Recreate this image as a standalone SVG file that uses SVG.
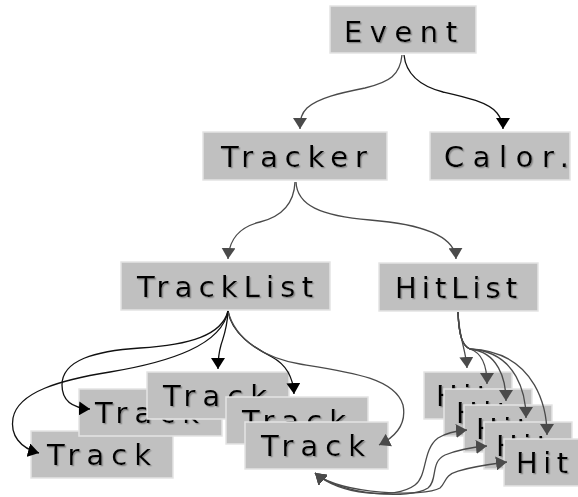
<svg xmlns="http://www.w3.org/2000/svg" width="578" height="497" viewBox="0 0 578 497">
  <style>
    .box { fill: #c0c0c0; stroke: #e4e4e4; stroke-width: 1.5; }
    .lbl { font-family: "DejaVu Sans", "Liberation Sans", sans-serif; font-size: 29px; fill: #000; filter: url(#shadow); }
    .dk { fill: none; stroke: #111; stroke-width: 1.3; marker-end: url(#headDk); }
    .gr { fill: none; stroke: #4a4a4a; stroke-width: 1.3; marker-end: url(#headGr); }
    .both { fill: none; stroke: #4a4a4a; stroke-width: 1.3; marker-end: url(#headGr); marker-start: url(#headGr); }
  </style>
  <defs>
    <filter id="shadow" x="-5%" y="-20%" width="115%" height="150%">
      <feDropShadow dx="1.3" dy="1.3" stdDeviation="0.2" flood-color="#8a8a8a" flood-opacity="1"/>
    </filter>
    <marker id="headDk" viewBox="0 0 11 14" refX="11" refY="7" markerWidth="11" markerHeight="14" markerUnits="userSpaceOnUse" orient="auto-start-reverse">
      <path d="M0,0 L11,7 L0,14 z" fill="#000"/>
    </marker>
    <marker id="headGr" viewBox="0 0 11 14" refX="11" refY="7" markerWidth="11" markerHeight="14" markerUnits="userSpaceOnUse" orient="auto-start-reverse">
      <path d="M0,0 L11,7 L0,14 z" fill="#4a4a4a"/>
    </marker>
  </defs>

  <!-- nodes -->
  <g id="event">
    <rect class="box" x="330" y="6" width="146" height="47"/>
    <text class="lbl" x="344" y="42" textLength="113">Event</text>
  </g>
  <g id="tracker">
    <rect class="box" x="203" y="132" width="184" height="48"/>
    <text class="lbl" x="221" y="167" textLength="146">Tracker</text>
  </g>
  <g id="calor">
    <rect class="box" x="430" y="132" width="140" height="48"/>
    <text class="lbl" x="444" y="167" textLength="125">Calor.</text>
  </g>
  <g id="tracklist">
    <rect class="box" x="121" y="262" width="209" height="48"/>
    <text class="lbl" x="137" y="297" textLength="176">TrackList</text>
  </g>
  <g id="hitlist">
    <rect class="box" x="379" y="263" width="159" height="48"/>
    <text class="lbl" x="395" y="298" textLength="122">HitList</text>
  </g>

  <g id="track1">
    <rect class="box" x="31" y="431" width="142" height="47"/>
    <text class="lbl" x="47" y="465" textLength="104">Track</text>
  </g>
  <g id="track2">
    <rect class="box" x="79" y="389" width="143" height="47"/>
    <text class="lbl" x="95" y="423" textLength="104">Track</text>
  </g>
  <g id="track3">
    <rect class="box" x="147" y="372" width="142" height="47"/>
    <text class="lbl" x="163" y="406" textLength="104">Track</text>
  </g>
  <g id="track4">
    <rect class="box" x="226" y="397" width="142" height="47"/>
    <text class="lbl" x="242" y="431" textLength="104">Track</text>
  </g>
  <g id="track5">
    <rect class="box" x="245" y="422" width="143" height="47"/>
    <text class="lbl" x="261" y="456" textLength="104">Track</text>
  </g>

  <g id="hit1">
    <rect class="box" x="424" y="372" width="88" height="47"/>
    <text class="lbl" x="436" y="406" textLength="52">Hit</text>
  </g>
  <g id="hit2">
    <rect class="box" x="444" y="389" width="88" height="47"/>
    <text class="lbl" x="456" y="423" textLength="52">Hit</text>
  </g>
  <g id="hit3">
    <rect class="box" x="464" y="405" width="88" height="47"/>
    <text class="lbl" x="476" y="439" textLength="52">Hit</text>
  </g>
  <g id="hit4">
    <rect class="box" x="484" y="422" width="88" height="47"/>
    <text class="lbl" x="496" y="456" textLength="52">Hit</text>
  </g>
  <g id="hit5">
    <rect class="box" x="504" y="439" width="88" height="47"/>
    <text class="lbl" x="516" y="473" textLength="52">Hit</text>
  </g>

  <!-- connectors -->
  <g id="connectors">
    <path class="gr" d="M402,55 C400,75 390,82 365,88 C340,93 318,98 307,108 C302,113 300,118 300,129"/>
    <path class="dk" d="M404,55 C406,74 420,86 443,92 C465,97 488,102 497,113 C501,118 503,122 503,129"/>
    <path class="gr" d="M295,182 C294,205 280,217 260,222 C240,227 229,238 228,259"/>
    <path class="gr" d="M296,182 C297,205 320,216 370,220 C420,224 455,235 456,259"/>

    <path class="dk" d="M228,311 C227,330 223,338 221,345 C219,352 218,358 218,369"/>
    <path class="dk" d="M228,311 C232,335 255,348 272,357 C285,364 293,375 294,394"/>
    <path class="gr" d="M228,311 C235,340 265,358 300,364 C350,372 395,378 403,405 C407,425 395,437 379,445"/>
    <path class="dk" d="M228,311 C222,335 190,345 140,348 C95,351 62,360 62,385 C62,400 72,408 90,409"/>
    <path class="dk" d="M228,311 C222,345 170,362 110,372 C60,380 18,392 13,418 C10,435 20,448 39,453"/>

    <path class="gr" d="M458,312 C459,338 466,350 467,368"/>
    <path class="gr" d="M458,312 C459,338 463,346 470,349 C479,352 487,362 487,384"/>
    <path class="gr" d="M458,312 C459,338 463,346 470,349 C498,352 506,379 506,401"/>
    <path class="gr" d="M458,312 C459,338 463,346 470,349 C518,352 526,396 526,418"/>
    <path class="gr" d="M458,312 C459,338 463,346 470,349 C539,352 547,413 547,435"/>

    <path class="both" d="M315,473 C340,495 395,500 415,485 C428,475 422,450 438,438 C446,433 455,431 467,430"/>
    <path class="both" d="M315,473 C340,495 410,500 428,488 C438,480 430,462 445,455 C460,449 475,447 487,446"/>
    <path class="both" d="M315,473 C340,495 425,497 440,488 C446,483 444,475 458,471 C475,466 492,464 507,462"/>
  </g>
</svg>
